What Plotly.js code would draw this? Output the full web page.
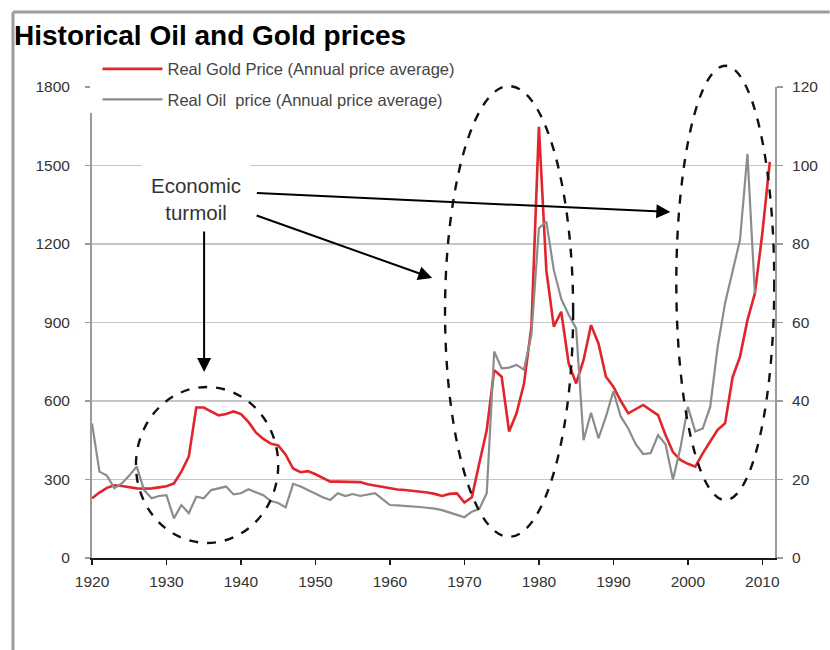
<!DOCTYPE html>
<html>
<head>
<meta charset="utf-8">
<script src="https://cdn.plot.ly/plotly-3.0.1.min.js"></script>
<style>
  html, body { margin: 0; padding: 0; background: #ffffff; }
  #chart { width: 830px; height: 650px; }
</style>
</head>
<body>
<div id="chart"></div>
<script>
// ---- Data ----
const years = [1920,1921,1922,1923,1924,1925,1926,1927,1928,1929,
               1930,1931,1932,1933,1934,1935,1936,1937,1938,1939,
               1940,1941,1942,1943,1944,1945,1946,1947,1948,1949,
               1950,1951,1952,1953,1954,1955,1956,1957,1958,1959,
               1960,1961,1962,1963,1964,1965,1966,1967,1968,1969,
               1970,1971,1972,1973,1974,1975,1976,1977,1978,1979,
               1980,1981,1982,1983,1984,1985,1986,1987,1988,1989,
               1990,1991,1992,1993,1994,1995,1996,1997,1998,1999,
               2000,2001,2002,2003,2004,2005,2006,2007,2008,2009,
               2010,2011];

// Real gold price, left axis
const goldPrice = [228,250,268,278,275,270,266,265,266,270,
                   274,285,330,388,575,575,560,545,550,560,
                   550,520,480,455,437,430,395,342,328,332,
                   320,305,292,292,292,292,290,282,277,272,
                   266,262,260,257,254,250,245,237,245,247,
                   212,232,362,489,718,693,483,553,667,884,
                   1648,1100,884,941,744,667,757,890,820,693,
                   655,600,553,570,585,565,546,470,405,375,
                   360,349,400,445,490,515,690,769,909,1011,
                   1241,1514];

// Real oil price, right axis
const oilPrice = [34.3,22,21,17.8,19,21,23.3,17.3,15.2,15.8,
                  16,10.1,13.5,11.4,15.6,15.2,17.3,17.8,18.2,16.2,
                  16.5,17.5,16.8,16,14.5,14,12.9,18.9,18.2,17.3,
                  16.2,15.5,14.8,16.5,15.8,16.3,15.8,16.2,16.5,15,
                  13.5,13.4,13.3,13.2,13,12.8,12.6,12.2,11.5,11,
                  10.4,11.8,12.5,16.5,52.6,48.3,48.5,49.2,48,57,
                  84,85.7,73.4,66,62,58.5,30,37,30.5,36,
                  42.5,36,33,29,26.5,26.7,31.3,29,20,28,
                  38.5,32.2,33,38.5,53.8,65,73,81,103,67.4,
                  null,null];

const xTicks = [1920,1930,1940,1950,1960,1970,1980,1990,2000,2010];
const goldTicks = [0,300,600,900,1200,1500,1800];
const oilTicks = [0,20,40,60,80,100,120];

const seriesNames = ['Real Gold Price (Annual price average)',
                     'Real Oil  price (Annual price average)'];
const chartTitle = 'Historical Oil and Gold prices';
const noteText = 'Economic<br>turmoil';

const FONT = 'Liberation Sans, Arial, Helvetica, sans-serif';

const traces = [
  {
    x: years, y: goldPrice, name: seriesNames[0], type: 'scatter', mode: 'lines',
    line: {color: '#e0252b', width: 2.6}, yaxis: 'y', legendgroup: 'g1'
  },
  {
    x: years, y: oilPrice, name: seriesNames[1], type: 'scatter', mode: 'lines',
    line: {color: '#8c8c8c', width: 2.2}, yaxis: 'y2', legendgroup: 'g2',
    connectgaps: false
  }
];

const layout = {
  width: 830, height: 650,
  margin: {l: 92, r: 55, t: 87, b: 92, pad: 0},
  paper_bgcolor: '#ffffff', plot_bgcolor: '#ffffff',
  font: {family: FONT, color: '#333333', size: 13},
  title: {
    text: chartTitle,
    font: {family: FONT, size: 28, color: '#000000', weight: 'bold'},
    x: 14/830, xref: 'container', xanchor: 'left',
    y: 1 - 35/650, yref: 'container', yanchor: 'middle'
  },
  showlegend: true,
  legend: {
    x: 0.008, xanchor: 'left', y: 1.075, yanchor: 'top',
    bgcolor: '#ffffff', borderwidth: 0,
    font: {family: FONT, size: 16.5, color: '#444444'},
    traceorder: 'grouped', tracegroupgap: 6, itemwidth: 60
  },
  xaxis: {
    range: [1920, 2011.7], tickvals: xTicks, ticktext: xTicks.map(String),
    showgrid: false, zeroline: false,
    showline: true, linecolor: '#1a1a1a', linewidth: 2,
    ticks: 'outside', ticklen: 5, tickwidth: 1.5, tickcolor: '#1a1a1a',
    tickfont: {family: FONT, size: 15.5, color: '#333333'},
    ticklabelstandoff: 3
  },
  yaxis: {
    range: [0, 1800], tickvals: goldTicks,
    showgrid: true, gridcolor: '#c6c6c6', gridwidth: 1.6,
    zeroline: false,
    showline: true, linecolor: '#9a9a9a', linewidth: 2,
    ticks: 'outside', ticklen: 5, tickwidth: 1.5, tickcolor: '#9a9a9a',
    tickfont: {family: FONT, size: 15.5, color: '#333333'},
    ticklabelstandoff: 12
  },
  yaxis2: {
    range: [0, 120], tickvals: oilTicks, overlaying: 'y', side: 'right',
    showgrid: false, zeroline: false,
    showline: true, linecolor: '#9a9a9a', linewidth: 2,
    ticks: 'outside', ticklen: 6, tickwidth: 1.5, tickcolor: '#9a9a9a',
    tickfont: {family: FONT, size: 15.5, color: '#333333'},
    ticklabelstandoff: 6
  },
  shapes: [
    // outer frame (top and left edges)
    {type: 'line', xref: 'paper', yref: 'paper', x0: -0.1157, x1: 1.08, y0: 1.1592, y1: 1.1592,
     line: {color: '#9c9c9c', width: 3}},
    {type: 'line', xref: 'paper', yref: 'paper', x0: -0.1157, x1: -0.1157, y0: 1.1592, y1: -0.2,
     line: {color: '#9c9c9c', width: 3}},
    // white patch behind the legend (hides top of left axis line, as in the reference)
    {type: 'rect', xref: 'paper', yref: 'paper', layer: 'above',
     x0: (90 - 92) / 683, x1: (476 - 92) / 683, y0: (558 - 113) / 471, y1: (558 - 60) / 471,
     fillcolor: '#ffffff', line: {width: 0}},
    // dashed ellipses
    {type: 'circle', xref: 'x', yref: 'paper', layer: 'above', x0: 1925.9, x1: 1945.0, y0: 0.032, y1: 0.363,
     line: {color: '#111111', width: 2.4, dash: 'dash'}},
    {type: 'circle', xref: 'x', yref: 'paper', layer: 'above', x0: 1967.4, x1: 1984.6, y0: 0.045, y1: 1.002,
     line: {color: '#111111', width: 2.4, dash: 'dash'}},
    {type: 'circle', xref: 'x', yref: 'paper', layer: 'above', x0: 1998.45, x1: 2011.6, y0: 0.123, y1: 1.045,
     line: {color: '#111111', width: 2.4, dash: 'dash'}}
  ],
  annotations: [
    {text: noteText, xref: 'x', yref: 'paper', x: 1933.97, y: 0.836,
     showarrow: false, align: 'center', bgcolor: '#ffffff', borderpad: 9,
     font: {family: FONT, size: 20.5, color: '#333333'}},
    {text: '', xref: 'x', yref: 'paper', x: 1935.05, y: 0.395, ax: 0, ay: -142,
     showarrow: true, arrowhead: 2, arrowsize: 1.4, arrowwidth: 2, arrowcolor: '#000000'},
    {text: '', xref: 'x', yref: 'paper', x: 1997.65, y: 0.7346, ax: -415, ay: -19,
     showarrow: true, arrowhead: 2, arrowsize: 1.4, arrowwidth: 2, arrowcolor: '#000000'},
    {text: '', xref: 'x', yref: 'paper', x: 1965.67, y: 0.5945, ax: -177, ay: -63,
     showarrow: true, arrowhead: 2, arrowsize: 1.4, arrowwidth: 2, arrowcolor: '#000000'}
  ]
};

Plotly.newPlot('chart', traces, layout, {displayModeBar: false, staticPlot: true});
</script>
</body>
</html>
